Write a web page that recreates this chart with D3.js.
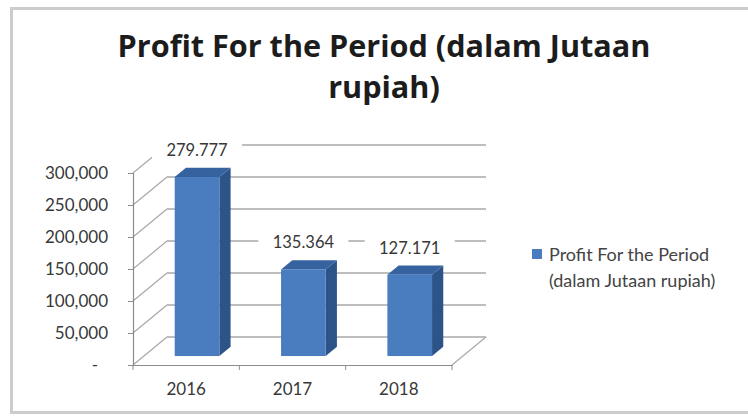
<!DOCTYPE html>
<html>
<head>
<meta charset="utf-8">
<script src="https://cdn.jsdelivr.net/npm/d3@7"></script>
<style>
  body { margin: 0; background: #fff; }
  svg { display: block; font-family: Lato, "Open Sans", sans-serif; }
</style>
</head>
<body>
<svg id="chart" width="748" height="416"></svg>
<script>
const years = ["2016", "2017", "2018"];
const profit = [279777, 135364, 127171];
const profitLabels = ["279.777", "135.364", "127.171"];
const yTicks = [0, 50000, 100000, 150000, 200000, 250000, 300000];
const titleLines = ["Profit For the Period (dalam Jutaan", "rupiah)"];
const legendLines = ["Profit For the Period", "(dalam Jutaan rupiah)"];

const svg = d3.select("#chart");

// floor front edge + depth of the 3d box
const plotLeft = 133;
const plotRight = 452;
const plotBottom = 365;
const plotTop = 173;
const depthX = 34;
const depthY = -28;
const barFront = 0.32;   // where the bar starts inside the depth
const barDepth = 0.33;

const x = d3.scaleBand()
    .domain(years)
    .range([plotLeft, plotRight])
    .paddingInner(0.58)
    .paddingOuter(0.29);

const y = d3.scaleLinear()
    .domain([0, 300000])
    .range([plotBottom, plotTop]);

const gridColor = "#a9a9a9";
const axisColor = "#8c8c8c";
const textColor = "#383838";

// frame
svg.append("rect")
    .attr("x", 11.5).attr("y", 8.5)
    .attr("width", 760).attr("height", 404)
    .attr("fill", "none")
    .attr("stroke", "#cccccc")
    .attr("stroke-width", 3);

// title, sized to the width of the first line
const title = svg.append("text")
    .attr("text-anchor", "middle")
    .attr("font-family", "'Open Sans', sans-serif")
    .attr("font-weight", 700)
    .attr("font-size", 28)
    .attr("fill", "#1c1c1c");
title.selectAll("tspan")
    .data(titleLines)
    .join("tspan")
    .attr("x", 384)
    .attr("y", (d, i) => 57 + i * 41)
    .text(d => d);
const firstW = title.select("tspan").node().getComputedTextLength();
title.attr("font-size", 28 * 533 / firstW);

// back wall gridlines
svg.append("g")
    .selectAll("line")
    .data(yTicks)
    .join("line")
    .attr("x1", plotLeft + depthX)
    .attr("x2", plotRight + depthX)
    .attr("y1", d => y(d) + depthY)
    .attr("y2", d => y(d) + depthY)
    .attr("stroke", gridColor)
    .attr("stroke-width", 1.6);

// side wall diagonals
svg.append("g")
    .selectAll("line")
    .data(yTicks)
    .join("line")
    .attr("x1", plotLeft)
    .attr("x2", plotLeft + depthX)
    .attr("y1", d => y(d))
    .attr("y2", d => y(d) + depthY)
    .attr("stroke", gridColor)
    .attr("stroke-width", 1.2);

// floor right edge
svg.append("line")
    .attr("x1", plotRight).attr("y1", y(0))
    .attr("x2", plotRight + depthX).attr("y2", y(0) + depthY)
    .attr("stroke", gridColor)
    .attr("stroke-width", 1.2);

// label boxes hide the gridlines behind them
const labelPos = years.map((yr, i) => ({
  x: x(yr) + x.bandwidth() / 2 + barFront * depthX,
  y: y(profit[i]) + barFront * depthY - 27,
  text: profitLabels[i]
}));

svg.append("g")
    .selectAll("rect")
    .data(labelPos)
    .join("rect")
    .attr("x", d => d.x - 45)
    .attr("y", d => d.y - 16)
    .attr("width", 90)
    .attr("height", 34)
    .attr("fill", "#fff");

// bars
const bars = svg.append("g")
    .selectAll("g")
    .data(years.map((yr, i) => ({ yr, v: profit[i] })))
    .join("g");

const fx = barFront * depthX, fy = barFront * depthY;
const dx = barDepth * depthX, dy = barDepth * depthY;

bars.append("polygon")
    .attr("points", d => {
      const x0 = x(d.yr) + fx, x1 = x0 + x.bandwidth();
      const yt = y(d.v) + fy, yb = y(0) + fy;
      return [[x1, yt], [x1 + dx, yt + dy], [x1 + dx, yb + dy], [x1, yb]].join(" ");
    })
    .attr("fill", "#2d5489");

bars.append("polygon")
    .attr("points", d => {
      const x0 = x(d.yr) + fx, x1 = x0 + x.bandwidth();
      const yt = y(d.v) + fy;
      return [[x0, yt], [x1, yt], [x1 + dx, yt + dy], [x0 + dx, yt + dy]].join(" ");
    })
    .attr("fill", "#3662a0");

bars.append("rect")
    .attr("x", d => x(d.yr) + fx)
    .attr("y", d => y(d.v) + fy)
    .attr("width", x.bandwidth())
    .attr("height", d => y(0) - y(d.v))
    .attr("fill", "#4a7dc0");

// value labels
svg.append("g")
    .selectAll("text")
    .data(labelPos)
    .join("text")
    .attr("x", d => d.x)
    .attr("y", d => d.y + 6)
    .attr("text-anchor", "middle")
    .attr("font-size", 16.5)
    .attr("fill", textColor)
    .text(d => d.text);

// front value axis
const yAxis = svg.append("g")
    .attr("transform", `translate(${plotLeft},0)`)
    .call(d3.axisLeft(y)
      .tickValues(yTicks)
      .tickSize(5)
      .tickPadding(20)
      .tickFormat(d => d === 0 ? "-" : d3.format(",")(d)));

yAxis.select(".domain").attr("stroke", axisColor).attr("stroke-width", 1.2);
yAxis.selectAll(".tick line").attr("stroke", axisColor);
yAxis.selectAll(".tick text")
    .attr("font-family", "Lato, sans-serif")
    .attr("font-size", 17)
    .attr("fill", textColor)
    .attr("dx", d => d === 0 ? -10 : 0);

// category axis on floor front edge
const xAxis = svg.append("g")
    .attr("transform", `translate(0,${plotBottom})`)
    .call(d3.axisBottom(x).tickSize(0).tickPadding(18));

xAxis.select(".domain").attr("stroke", axisColor).attr("stroke-width", 1.2);
xAxis.selectAll(".tick text")
    .attr("font-family", "Lato, sans-serif")
    .attr("font-size", 17)
    .attr("fill", textColor);

// category separators
xAxis.selectAll("line.sep")
    .data(d3.range(years.length + 1))
    .join("line")
    .attr("class", "sep")
    .attr("x1", i => plotLeft + i * x.step())
    .attr("x2", i => plotLeft + i * x.step())
    .attr("y1", 0)
    .attr("y2", 5)
    .attr("stroke", axisColor);

// legend
const legend = svg.append("g");
legend.append("rect")
    .attr("x", 532).attr("y", 249)
    .attr("width", 10).attr("height", 10)
    .attr("fill", "#4a7dc0");
legend.append("text")
    .attr("font-size", 18)
    .attr("fill", "#444")
    .selectAll("tspan")
    .data(legendLines)
    .join("tspan")
    .attr("x", 549)
    .attr("y", (d, i) => 261 + i * 26)
    .text(d => d);
</script>
</body>
</html>
